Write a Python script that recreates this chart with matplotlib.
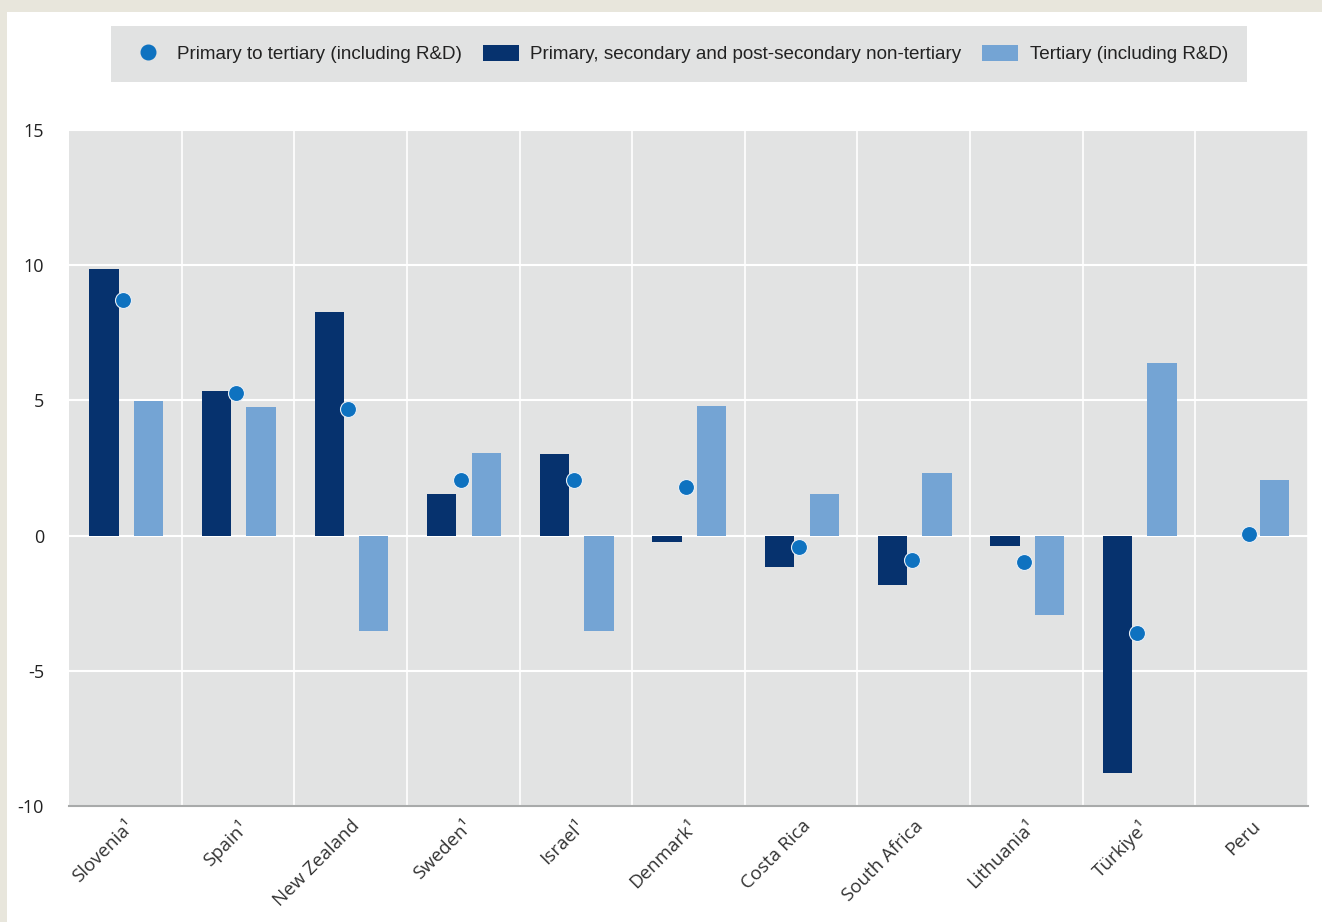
import numpy as np
import matplotlib.pyplot as plt
from matplotlib.patches import Rectangle, Patch
from matplotlib.lines import Line2D

# Дані
countries = ["Slovenia¹", "Spain¹", "New Zealand", "Sweden¹", "Israel¹", "Denmark¹",
             "Costa Rica", "South Africa", "Lithuania¹", "Türkiye¹", "Peru"]
non_tertiary = [9.85, 5.33, 8.26, 1.52, 3.0, -0.22, -1.15, -1.81, -0.37, -8.78, np.nan]
tertiary = [4.96, 4.74, -3.52, 3.07, -3.52, 4.81, 1.52, 2.33, -2.93, 6.37, 2.04]
total = [8.7, 5.26, 4.67, 2.04, 2.04, 1.78, -0.44, -0.89, -0.96, -3.59, 0.07]

dark = "#06326e"
light = "#74a4d4"
dot = "#0e72c0"
panel = "#e2e3e3"

fig = plt.figure(figsize=(13.22, 9.22), dpi=100)
fig.patch.set_facecolor("#e8e6dc")
fig.patches.append(Rectangle((7 / 1322, 0), 1, 1 - 12 / 922, transform=fig.transFigure,
                             facecolor="white", edgecolor="none", zorder=-10))

ax = fig.add_axes([69 / 1322, 116 / 922, 1239 / 1322, 676 / 922])
ax.set_facecolor(panel)

x = np.arange(len(countries))
w = 0.26
ax.bar(x - 0.19, non_tertiary, w, color=dark, zorder=3)
ax.bar(x + 0.205, tertiary, w, color=light, zorder=3)
ax.plot(x - 0.02, total, "o", color=dot, markersize=11.5, markeredgecolor="#e8eef5",
        markeredgewidth=0.8, zorder=4)

ax.set_xlim(-0.5, len(countries) - 0.5)
ax.set_ylim(-10, 15)
ax.set_yticks([-10, -5, 0, 5, 10, 15])
ax.set_yticklabels(["-10", "-5", "0", "5", "10", "15"])

# вертикальні лінії між категоріями
ax.set_xticks(x + 0.5, minor=True)
ax.set_xticks(x)
ax.set_xticklabels(countries, rotation=45, ha="right", rotation_mode="anchor",
                   fontsize=13.5, color="#333333", family="Open Sans")
ax.grid(True, which="minor", axis="x", color="white", linewidth=1.2, zorder=1)
ax.grid(True, which="major", axis="y", color="white", linewidth=1.5, zorder=1)
ax.tick_params(axis="both", which="both", length=0)
ax.tick_params(axis="x", pad=8)
ax.tick_params(axis="y", pad=18, labelsize=13, labelcolor="#222222")
for lab in ax.get_yticklabels():
    lab.set_family("Open Sans")

for s in ["top", "right", "left"]:
    ax.spines[s].set_visible(False)
ax.spines["bottom"].set_color("#a8aaaa")
ax.spines["bottom"].set_linewidth(1.5)

handles = [
    Line2D([], [], marker="o", linestyle="none", color=dot, markersize=10.5),
    Patch(facecolor=dark),
    Patch(facecolor=light),
]
labels = ["Primary to tertiary (including R&D)",
          "Primary, secondary and post-secondary non-tertiary",
          "Tertiary (including R&D)"]
leg = fig.legend(handles, labels, loc="center", bbox_to_anchor=(679 / 1322, 1 - 54 / 922),
                 ncol=3, frameon=True, fancybox=False, facecolor="#e1e2e2", edgecolor="none",
                 framealpha=1, handlelength=1.9, handleheight=0.95,
                 columnspacing=1.1, handletextpad=0.6, borderpad=1.0,
                 prop={"family": "Liberation Sans", "size": 13.6})
for t in leg.get_texts():
    t.set_color("#222222")

fig.savefig("out.png", dpi=100)
